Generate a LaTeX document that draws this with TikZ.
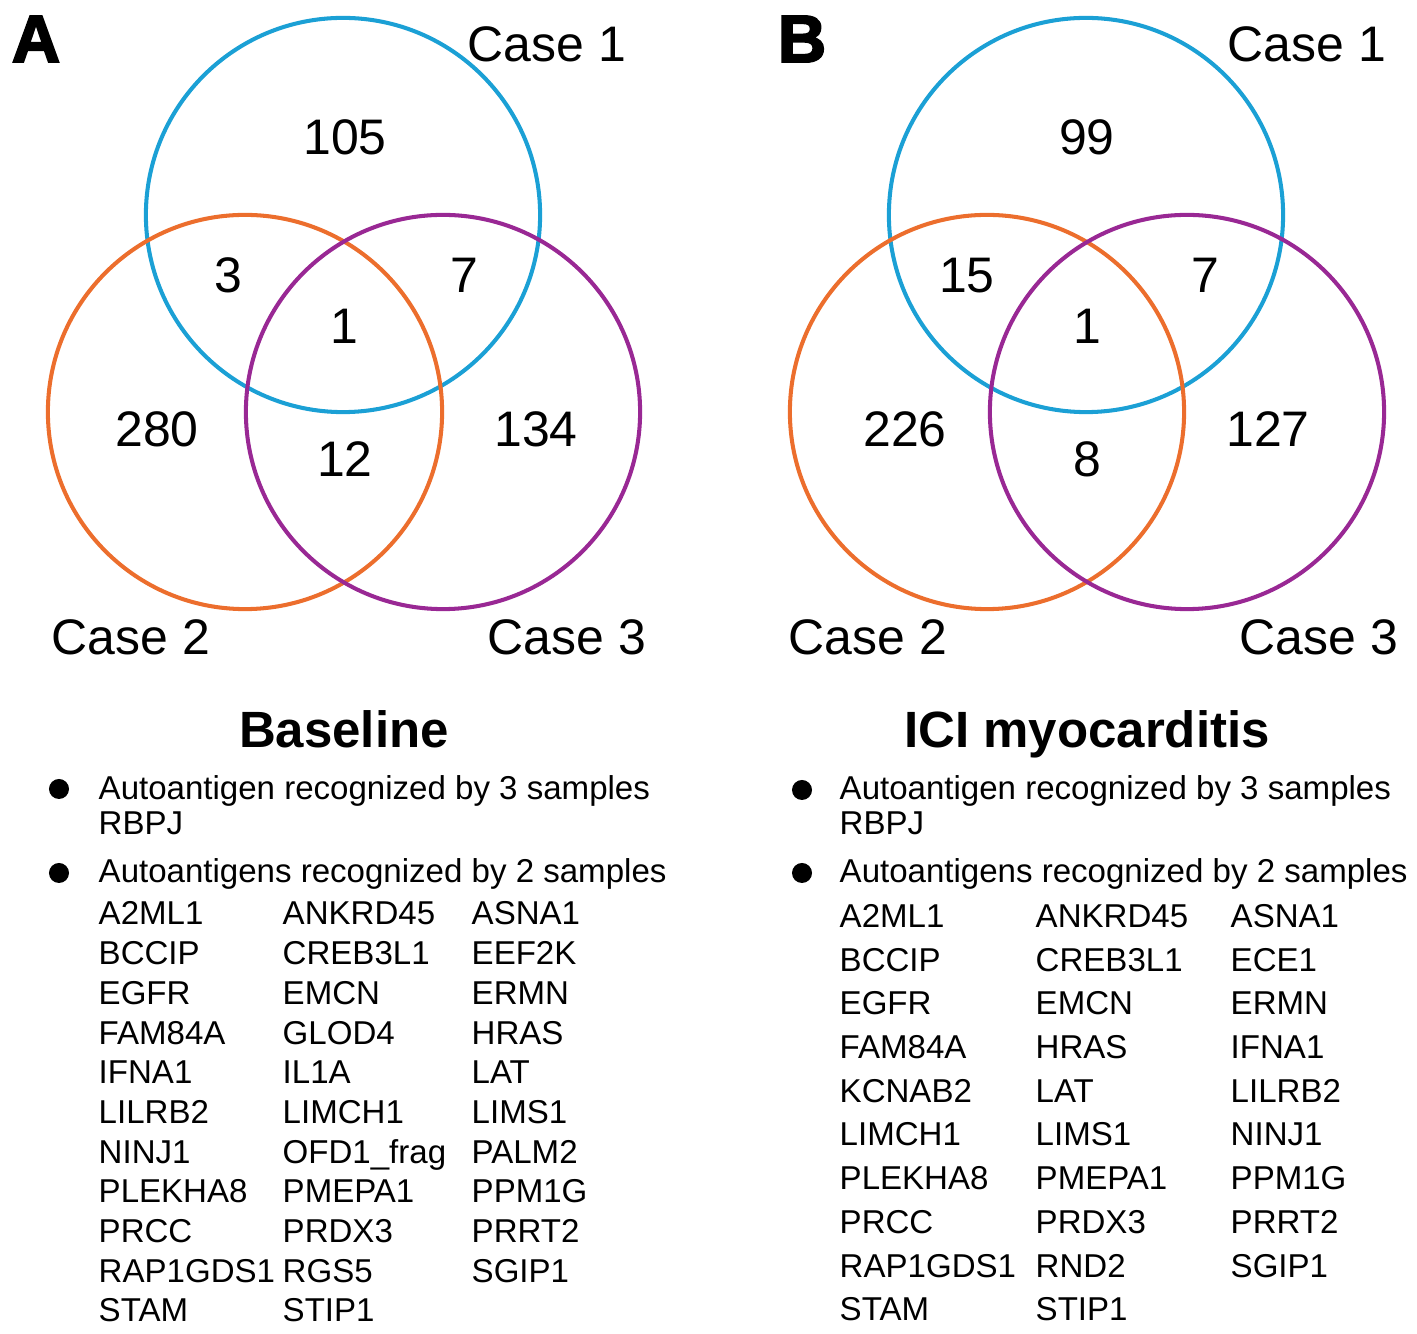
\documentclass[tikz,border=0pt]{standalone}
\usepackage{fontspec}
\setmainfont{Liberation Sans}
\newfontfamily\heavyfont[FakeBold=3]{Liberation Sans Bold}
\usepackage{tikz}
\definecolor{caseone}{RGB}{27,160,213}
\definecolor{casetwo}{RGB}{236,110,45}
\definecolor{casethree}{RGB}{153,40,148}
\tikzset{ring/.style = {shape=circle,draw,line width=1.15pt,minimum size=3.94cm,inner sep=0pt}}
\tikzset{num/.style = {anchor=base,inner sep=0pt,font=\fontsize{14.2}{16}\selectfont}}
\tikzset{panel/.style = {anchor=base,inner sep=0pt,font=\heavyfont\fontsize{19}{22}\selectfont}}
\tikzset{heading/.style = {anchor=base,inner sep=0pt,font=\bfseries\fontsize{14.5}{17}\selectfont}}
\tikzset{item/.style = {anchor=base west,inner sep=0pt,font=\fontsize{9.4}{11}\selectfont}}
\tikzset{dot/.style = {shape=circle,fill,inner sep=0pt,minimum size=0.2cm}}

\begin{document}
\begin{tikzpicture}[x=0.01cm,y=-0.01cm]
\useasboundingbox (0,0) rectangle (1417,1334);

% panel A: baseline
\node[panel] (pa) at (36,62) {A};
\node[ring,caseone] (a1) at (343,215) {};
\node[ring,casetwo] (a2) at (245,412) {};
\node[ring,casethree] (a3) at (443,412) {};
\node[num] (la1) at (547,62) {Case 1};
\node[num] (la2) at (131,655) {Case 2};
\node[num] (la3) at (567,655) {Case 3};
\node[num] (na1) at (345,155) {105};
\node[num] (na12) at (228,293) {3};
\node[num] (na13) at (464,293) {7};
\node[num] (na123) at (344,344) {1};
\node[num] (na2) at (157,447) {280};
\node[num] (na23) at (345,477) {12};
\node[num] (na3) at (536,447) {134};

% panel B: ICI myocarditis
\node[panel] (pb) at (802,62) {B};
\node[ring,caseone] (b1) at (1086,215) {};
\node[ring,casetwo] (b2) at (987,412) {};
\node[ring,casethree] (b3) at (1187,412) {};
\node[num] (lb1) at (1307,62) {Case 1};
\node[num] (lb2) at (868,655) {Case 2};
\node[num] (lb3) at (1319,655) {Case 3};
\node[num] (nb1) at (1087,155) {99};
\node[num] (nb12) at (967,293) {15};
\node[num] (nb13) at (1205,293) {7};
\node[num] (nb123) at (1087,344) {1};
\node[num] (nb2) at (905,447) {226};
\node[num] (nb23) at (1087,477) {8};
\node[num] (nb3) at (1268,447) {127};

% lists
\node[heading] (ta) at (344,748) {Baseline};
\node[dot] (da1) at (59,789) {};
\node[item] (ia1) at (98,800) {Autoantigen recognized by 3 samples};
\node[item] (ia2) at (98,835) {RBPJ};
\node[dot] (da2) at (59,873) {};
\node[item] (ia3) at (98,883) {Autoantigens recognized by 2 samples};
\foreach \g [count=\i from 0] in {A2ML1,ANKRD45,ASNA1,BCCIP,CREB3L1,EEF2K,EGFR,EMCN,ERMN,FAM84A,GLOD4,HRAS,IFNA1,IL1A,LAT,LILRB2,LIMCH1,LIMS1,NINJ1,OFD1\_frag,PALM2,PLEKHA8,PMEPA1,PPM1G,PRCC,PRDX3,PRRT2,RAP1GDS1,RGS5,SGIP1,STAM,STIP1}
{
  \pgfmathtruncatemacro\c{mod(\i,3)}
  \pgfmathtruncatemacro\r{div(\i,3)}
  \pgfmathsetmacro\gx{{98,282,471}[\c]}
  \node[item] (ga\i) at (\gx,925+39.7*\r) {\g};
}

\node[heading] (tb) at (1087,748) {ICI myocarditis};
\node[dot] (db1) at (802,790) {};
\node[item] (ib1) at (839,800) {Autoantigen recognized by 3 samples};
\node[item] (ib2) at (839,835) {RBPJ};
\node[dot] (db2) at (802,873) {};
\node[item] (ib3) at (839,883) {Autoantigens recognized by 2 samples};
\foreach \g [count=\i from 0] in {A2ML1,ANKRD45,ASNA1,BCCIP,CREB3L1,ECE1,EGFR,EMCN,ERMN,FAM84A,HRAS,IFNA1,KCNAB2,LAT,LILRB2,LIMCH1,LIMS1,NINJ1,PLEKHA8,PMEPA1,PPM1G,PRCC,PRDX3,PRRT2,RAP1GDS1,RND2,SGIP1,STAM,STIP1}
{
  \pgfmathtruncatemacro\c{mod(\i,3)}
  \pgfmathtruncatemacro\r{div(\i,3)}
  \pgfmathsetmacro\gx{{839,1035,1230}[\c]}
  \node[item] (gb\i) at (\gx,927.5+43.7*\r) {\g};
}
\end{tikzpicture}
\end{document}
